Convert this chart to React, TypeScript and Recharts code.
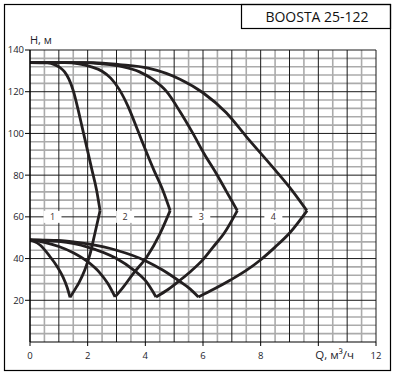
import { ComposedChart, Line, Scatter, XAxis, YAxis, CartesianGrid } from 'recharts';

// Q (m³/h) and H (m)
const upper1 = [
  { q: 0, h: 134 }, { q: 0.6, h: 133.8 }, { q: 0.85, h: 133 }, { q: 1.05, h: 131.5 },
  { q: 1.2, h: 129.5 }, { q: 1.35, h: 126 }, { q: 1.5, h: 120.5 }, { q: 1.65, h: 112.5 },
  { q: 1.8, h: 103.5 }, { q: 2.0, h: 91.5 }, { q: 2.14, h: 83 }, { q: 2.31, h: 72.8 },
  { q: 2.43, h: 63 },
];
const upper2 = [
  { q: 0, h: 134 }, { q: 1.2, h: 133.9 }, { q: 1.7, h: 133.3 }, { q: 2.1, h: 132 },
  { q: 2.5, h: 129.8 }, { q: 2.8, h: 126.5 }, { q: 3.1, h: 121 }, { q: 3.4, h: 113 },
  { q: 3.75, h: 101 }, { q: 4.05, h: 90.6 }, { q: 4.3, h: 82.3 }, { q: 4.6, h: 73 },
  { q: 4.86, h: 63 },
];
const upper3 = [
  { q: 0, h: 134 }, { q: 1.8, h: 133.9 }, { q: 2.5, h: 133.3 }, { q: 3.2, h: 132 },
  { q: 3.8, h: 129.5 }, { q: 4.3, h: 125.5 }, { q: 4.74, h: 120 }, { q: 5.2, h: 110.5 },
  { q: 5.65, h: 100 }, { q: 6.05, h: 90 }, { q: 6.45, h: 81 }, { q: 6.82, h: 72 },
  { q: 7.19, h: 63 },
];
const upper4 = [
  { q: 0, h: 134 }, { q: 2.2, h: 133.9 }, { q: 3.1, h: 133 }, { q: 4.1, h: 131.3 },
  { q: 5.2, h: 126 }, { q: 6.0, h: 119.5 }, { q: 6.8, h: 110 }, { q: 7.5, h: 98.5 },
  { q: 8.5, h: 82.5 }, { q: 9.08, h: 72.8 }, { q: 9.6, h: 63 },
];

const right1 = [
  { q: 1.39, h: 21.4 }, { q: 1.55, h: 25 }, { q: 1.7, h: 28.5 }, { q: 1.9, h: 34.5 },
  { q: 2.08, h: 42 }, { q: 2.25, h: 52 }, { q: 2.43, h: 63 },
];
const right2 = [
  { q: 2.95, h: 21.6 }, { q: 3.24, h: 26.4 }, { q: 3.58, h: 32.8 }, { q: 4.05, h: 40.8 },
  { q: 4.51, h: 52 }, { q: 4.86, h: 63 },
];
const right3 = [
  { q: 4.37, h: 21.6 }, { q: 4.8, h: 25.3 }, { q: 5.2, h: 29.6 }, { q: 5.6, h: 34.2 },
  { q: 6.0, h: 39.5 }, { q: 6.35, h: 45.5 }, { q: 6.75, h: 52.5 }, { q: 7.19, h: 63 },
];
const right4 = [
  { q: 5.84, h: 21.6 }, { q: 6.4, h: 25.5 }, { q: 6.94, h: 29.6 }, { q: 7.5, h: 34.3 },
  { q: 7.98, h: 39.2 }, { q: 8.5, h: 45.5 }, { q: 9.02, h: 52.5 }, { q: 9.61, h: 63 },
];

const left1 = [
  { q: 0, h: 49 }, { q: 0.35, h: 46.5 }, { q: 0.69, h: 41 }, { q: 0.95, h: 36 },
  { q: 1.15, h: 31 }, { q: 1.28, h: 26.5 }, { q: 1.39, h: 21.4 },
];
const left2 = [
  { q: 0, h: 49 }, { q: 0.5, h: 47.8 }, { q: 1, h: 45.8 }, { q: 1.5, h: 42.8 },
  { q: 2, h: 38.5 }, { q: 2.4, h: 33.5 }, { q: 2.7, h: 28 }, { q: 2.95, h: 21.6 },
];
const left3 = [
  { q: 0, h: 49 }, { q: 1, h: 48.2 }, { q: 2, h: 45.5 }, { q: 3, h: 40 },
  { q: 3.6, h: 34.5 }, { q: 4, h: 29.5 }, { q: 4.37, h: 21.6 },
];
const left4 = [
  { q: 0, h: 49 }, { q: 1, h: 48.7 }, { q: 2, h: 47 }, { q: 3, h: 44 }, { q: 4, h: 39 },
  { q: 4.6, h: 34.5 }, { q: 5.2, h: 29 }, { q: 5.55, h: 25.5 }, { q: 5.84, h: 21.6 },
];

const curveLabels = [
  { q: 0.78, h: 60, name: '1' },
  { q: 3.3, h: 60, name: '2' },
  { q: 5.94, h: 60, name: '3' },
  { q: 8.44, h: 60, name: '4' },
];

const xTicks = [0, 2, 4, 6, 8, 10, 12];
const yTicks = [20, 40, 60, 80, 100, 120, 140];
const minorQ = [0.5, 1.5, 2.5, 3.5, 4.5, 5.5, 6.5, 7.5, 8.5, 9.5, 10.5, 11.5];
const majorQ = [0, 1, 2, 3, 4, 5, 6, 7, 8, 9, 10, 11, 12];
const minorH = [4, 8, 12, 16, 24, 28, 32, 36, 44, 48, 52, 56, 64, 68, 72, 76, 84, 88, 92, 96, 104, 108, 112, 116, 124, 128, 132, 136];
const majorH = [20, 40, 60, 80, 100, 120, 140];

const segments = [upper1, right1, left1, upper2, right2, left2, upper3, right3, left3, upper4, right4, left4];

const FONT = '"Open Sans", "Liberation Sans", sans-serif';
const INK = '#231f20';

const XTick = ({ x, y, payload }: any) => {
  if (payload.value === 10) {
    return (
      <text x={x - 3} y={y + 12.5} fontSize={11.5} fontFamily={FONT} fill="#1d1d2b">
        Q, м³/ч
      </text>
    );
  }
  return (
    <text x={x} y={y + 12.5} textAnchor="middle" fontSize={9.5} fontFamily={FONT} fill="#1d1d2b">
      {payload.value}
    </text>
  );
};

const YTick = ({ x, y, payload }: any) => (
  <text x={x} y={y + 3.4} textAnchor="end" fontSize={9.5} fontFamily={FONT} fill="#1d1d2b">
    {payload.value}
  </text>
);

const CurveLabel = ({ cx, cy, payload }: any) => (
  <g>
    <rect x={cx - 9} y={cy - 6} width={18} height={12} fill="#fff" />
    <text x={cx} y={cy + 3.2} textAnchor="middle" fontSize={9} fontFamily={FONT} fill="#3a3030">
      {payload.name}
    </text>
  </g>
);

export default function App() {
  return (
    <div style={{ position: 'absolute', left: 0, top: 0, width: 401, height: 376, background: '#fff' }}>
      <ComposedChart width={401} height={376} margin={{ top: 50, right: 25, left: 0, bottom: 0 }}>
        <CartesianGrid
          horizontalValues={minorH}
          verticalValues={minorQ}
          stroke="#ababab"
          strokeWidth={1.6}
        />
        <CartesianGrid
          horizontalValues={majorH}
          verticalValues={majorQ}
          stroke="#1a1a1a"
          strokeWidth={1}
        />
        <XAxis
          dataKey="q"
          type="number"
          domain={[0, 12]}
          ticks={xTicks}
          interval={0}
          height={34}
          tickSize={4}
          tickMargin={0}
          axisLine={{ stroke: '#000', strokeWidth: 1.2 }}
          tickLine={{ stroke: '#000' }}
          tick={<XTick />}
          allowDataOverflow
        />
        <YAxis
          dataKey="h"
          type="number"
          domain={[0, 140]}
          ticks={yTicks}
          interval={0}
          width={30}
          tickSize={5}
          tickMargin={1}
          axisLine={{ stroke: '#000', strokeWidth: 1.2 }}
          tickLine={{ stroke: '#000' }}
          tick={<YTick />}
          allowDataOverflow
        />
        <Scatter data={curveLabels} dataKey="h" shape={<CurveLabel />} isAnimationActive={false} />
        {segments.map((seg, i) => (
          <Line
            key={i}
            data={seg}
            dataKey="h"
            type="monotone"
            stroke={INK}
            strokeWidth={2.8}
            dot={false}
            activeDot={false}
            isAnimationActive={false}
          />
        ))}
      </ComposedChart>
      <svg width={401} height={376} style={{ position: 'absolute', left: 0, top: 0, pointerEvents: 'none' }}>
        <rect x={4.5} y={4.5} width={386} height={366} fill="none" stroke="#000" strokeWidth={1.2} />
        <rect x={241.5} y={4.5} width={149} height={24} fill="none" stroke="#000" strokeWidth={1.2} />
        <text x={317} y={21.7} textAnchor="middle" fontSize={14} fontFamily={FONT} fill="#111">
          BOOSTA 25-122
        </text>
        <text x={30} y={44.3} fontSize={11} fontFamily={FONT} fill="#1d1d2b">
          H, м
        </text>
      </svg>
    </div>
  );
}
